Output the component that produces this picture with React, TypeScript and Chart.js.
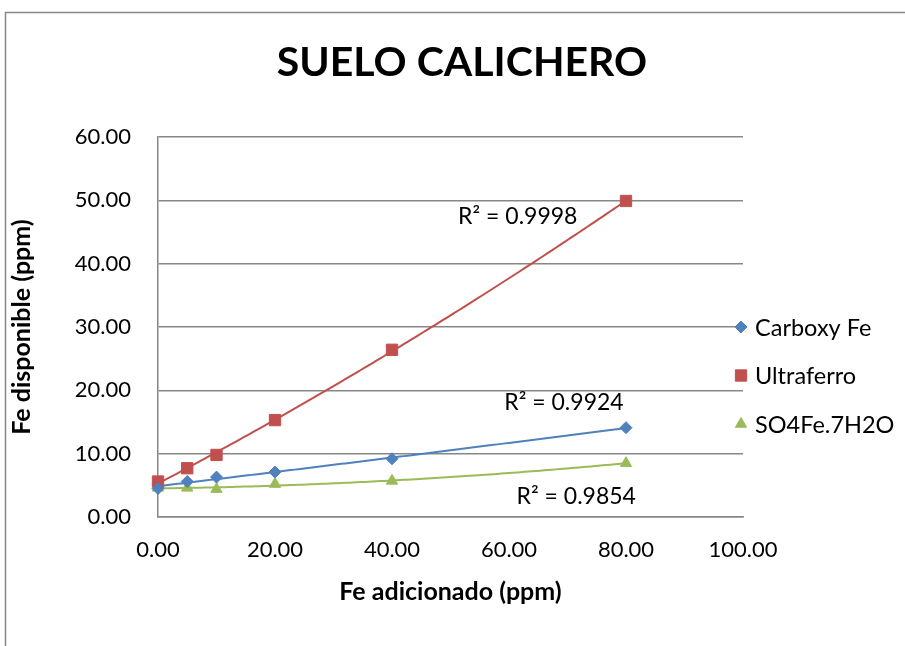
import React, { useEffect, useRef } from 'react';
import { Chart, registerables } from 'chart.js';
import { drawPoint } from 'chart.js/helpers';

Chart.register(...registerables);

const chartTitle = 'SUELO CALICHERO';
const xAxisTitle = 'Fe adicionado (ppm)';
const yAxisTitle = 'Fe disponible (ppm)';

const feAdded = [0, 5, 10, 20, 40, 80];
const carboxyFe = [4.5, 5.6, 6.3, 7.1, 9.2, 14.1];
const ultraferro = [5.6, 7.7, 9.8, 15.3, 26.4, 49.9];
const so4Fe = [4.6, 4.6, 4.4, 5.2, 5.7, 8.5];

const seriesNames = ['Carboxy Fe', 'Ultraferro', 'SO4Fe.7H2O'];
const seriesColors = ['#4F81BD', '#C0504D', '#9BBB59'];
const seriesStyles = ['rectRot', 'rect', 'triangle'];
const seriesRadii = [6, 8, 6.5];

const r2Texts = ['R² = 0.9924', 'R² = 0.9998', 'R² = 0.9854'];
const r2AtX = [69.4, 61.5, 71.5];
const r2AtY = [18.0, 47.5, 3.2];

const xTicksMax = 100;
const yTicksMax = 60;

const FONT = "Lato, 'Open Sans', 'DejaVu Sans', sans-serif";
const GRID = '#878787';

function polyfit2(xs: number[], ys: number[]): number[] {
  const s = [0, 0, 0, 0, 0];
  const t = [0, 0, 0];
  for (let i = 0; i < xs.length; i++) {
    let p = 1;
    for (let k = 0; k <= 4; k++) {
      s[k] += p;
      if (k <= 2) t[k] += ys[i] * p;
      p *= xs[i];
    }
  }
  const M = [
    [s[0], s[1], s[2], t[0]],
    [s[1], s[2], s[3], t[1]],
    [s[2], s[3], s[4], t[2]],
  ];
  for (let c = 0; c < 3; c++) {
    let piv = c;
    for (let r = c + 1; r < 3; r++) if (Math.abs(M[r][c]) > Math.abs(M[piv][c])) piv = r;
    [M[c], M[piv]] = [M[piv], M[c]];
    for (let r = 0; r < 3; r++) {
      if (r === c) continue;
      const f = M[r][c] / M[c][c];
      for (let k = c; k < 4; k++) M[r][k] -= f * M[c][k];
    }
  }
  return [M[0][3] / M[0][0], M[1][3] / M[1][1], M[2][3] / M[2][2]];
}

const framePlugin = {
  id: 'frame',
  beforeDraw(chart: any) {
    const ctx = chart.ctx;
    ctx.save();
    ctx.fillStyle = '#ffffff';
    ctx.fillRect(0, 0, chart.width, chart.height);
    ctx.strokeStyle = GRID;
    ctx.lineWidth = 1.5;
    ctx.beginPath();
    ctx.moveTo(5.5, chart.height);
    ctx.lineTo(5.5, 12.5);
    ctx.lineTo(chart.width, 12.5);
    ctx.stroke();
    ctx.fillStyle = '#000';
    ctx.font = `bold 41px ${FONT}`;
    ctx.textAlign = 'center';
    ctx.textBaseline = 'middle';
    ctx.fillText(chartTitle, 462, 63);
    ctx.restore();
  },
};

const trendPlugin = {
  id: 'trend',
  beforeDatasetsDraw(chart: any) {
    const ctx = chart.ctx;
    const xs = chart.scales.x;
    const ys = chart.scales.y;
    ctx.save();
    chart.data.datasets.forEach((ds: any, i: number) => {
      const px = ds.data.map((d: any) => d.x);
      const py = ds.data.map((d: any) => d.y);
      const [a, b, c] = polyfit2(px, py);
      const x0 = Math.min(...px);
      const x1 = Math.max(...px);
      ctx.strokeStyle = seriesColors[i];
      ctx.lineWidth = 2;
      ctx.beginPath();
      const n = 120;
      for (let k = 0; k <= n; k++) {
        const xv = x0 + ((x1 - x0) * k) / n;
        const yv = a + b * xv + c * xv * xv;
        const X = xs.getPixelForValue(xv);
        const Y = ys.getPixelForValue(yv);
        if (k === 0) ctx.moveTo(X, Y);
        else ctx.lineTo(X, Y);
      }
      ctx.stroke();
    });
    ctx.restore();
  },
  afterDatasetsDraw(chart: any) {
    const ctx = chart.ctx;
    const xs = chart.scales.x;
    const ys = chart.scales.y;
    ctx.save();
    ctx.fillStyle = '#000';
    ctx.font = `23px ${FONT}`;
    ctx.textAlign = 'center';
    ctx.textBaseline = 'middle';
    r2Texts.forEach((t, i) => {
      ctx.fillText(t, xs.getPixelForValue(r2AtX[i]), ys.getPixelForValue(r2AtY[i]));
    });
    ctx.restore();
  },
};

const legendPlugin = {
  id: 'customLegend',
  afterDraw(chart: any) {
    const ctx = chart.ctx;
    ctx.save();
    seriesNames.forEach((name, i) => {
      const y = 327 + i * 48.5;
      ctx.fillStyle = seriesColors[i];
      ctx.strokeStyle = seriesColors[i];
      ctx.lineWidth = 1;
      drawPoint(ctx, { pointStyle: seriesStyles[i], radius: seriesRadii[i], rotation: 0, borderWidth: 1 } as any, 741, y);
      ctx.fillStyle = '#000';
      ctx.font = `23.5px ${FONT}`;
      ctx.textAlign = 'left';
      ctx.textBaseline = 'middle';
      ctx.fillText(name, 755, y + 1);
    });
    ctx.restore();
  },
};

export default function App() {
  const ref = useRef<HTMLCanvasElement | null>(null);
  useEffect(() => {
    if (!ref.current) return;
    const seriesValues = [carboxyFe, ultraferro, so4Fe];
    const chart = new Chart(ref.current, {
      type: 'scatter',
      data: {
        datasets: seriesValues.map((vals, i) => ({
          label: seriesNames[i],
          data: feAdded.map((x, k) => ({ x, y: vals[k] })),
          backgroundColor: seriesColors[i],
          borderColor: seriesColors[i],
          pointStyle: seriesStyles[i] as any,
          pointRadius: seriesRadii[i],
          pointBorderWidth: 1,
          showLine: false,
          clip: false as any,
        })),
      },
      options: {
        animation: false,
        responsive: false,
        maintainAspectRatio: false,
        devicePixelRatio: 1,
        layout: { padding: { top: 137, right: 162, left: 0, bottom: 0 } },
        plugins: {
          legend: { display: false },
          title: { display: false },
          tooltip: { enabled: false },
        },
        scales: {
          x: {
            type: 'linear',
            min: 0,
            max: xTicksMax,
            ticks: {
              stepSize: 20,
              color: '#000',
              font: { family: FONT, size: 22 },
              padding: 20,
              callback: (v: any) => Number(v).toFixed(2),
            },
            grid: { display: false, drawTicks: false },
            border: { display: true, color: GRID, width: 1.5 },
            title: {
              display: true,
              text: xAxisTitle,
              color: '#000',
              font: { family: FONT, size: 25, weight: 'bold' },
              padding: { top: 0, bottom: 39 },
            },
            afterFit: (s: any) => {
              s.height = 129;
            },
          },
          y: {
            type: 'linear',
            min: 0,
            max: yTicksMax,
            ticks: {
              stepSize: 10,
              color: '#000',
              font: { family: FONT, size: 22 },
              padding: 27,
              callback: (v: any) => Number(v).toFixed(2),
            },
            grid: { display: true, color: GRID, lineWidth: 1.5, drawTicks: false },
            border: { display: true, color: GRID, width: 1.5 },
            title: {
              display: true,
              text: yAxisTitle,
              color: '#000',
              font: { family: FONT, size: 25, weight: 'bold' },
              padding: { top: 7, bottom: 0 },
            },
            afterFit: (s: any) => {
              s.width = 158;
            },
          },
        },
      },
      plugins: [framePlugin, trendPlugin, legendPlugin],
    });
    return () => chart.destroy();
  }, []);
  return (
    <div style={{ position: 'absolute', left: 0, top: 0, width: 905, height: 646 }}>
      <canvas ref={ref} width={905} height={646} style={{ width: 905, height: 646, display: 'block' }} />
    </div>
  );
}
